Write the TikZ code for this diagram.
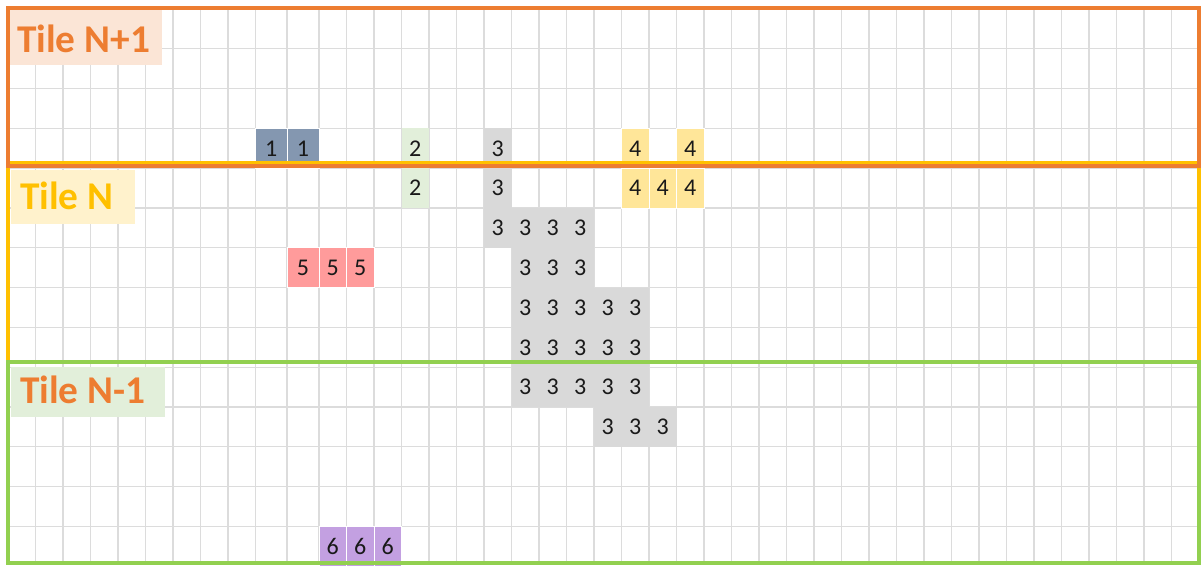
\documentclass[tikz,border=0pt]{standalone}
\usepackage{fontspec}
\setmainfont{Carlito}
\definecolor{tileorange}{HTML}{ED7D31}
\definecolor{tileyellow}{HTML}{FFC000}
\definecolor{tilegreen}{HTML}{92D050}
\definecolor{gridgray}{HTML}{DCDCDC}
\definecolor{bgorange}{HTML}{FBE5D6}
\definecolor{bgyellow}{HTML}{FFF2CC}
\definecolor{bggreen}{HTML}{E2EFDA}
\definecolor{cone}{HTML}{8497B0}
\definecolor{ctwo}{HTML}{E2EFDA}
\definecolor{cthree}{HTML}{D9D9D9}
\definecolor{cfour}{HTML}{FFE699}
\definecolor{cfive}{HTML}{FF9B9B}
\definecolor{csix}{HTML}{C3A0E1}
\tikzset{
  gridline/.style={draw=gridgray, line width=0.8pt},
  cellnode/.style={inner sep=0pt, outer sep=0pt, minimum height=29.85pt,
    font=\fontsize{18}{20}\selectfont, text=black!90},
  sepcell/.style={draw=white, line width=0.5pt},
  labelbg/.style={inner sep=0pt, outer sep=0pt, anchor=north west},
  tilelabel/.style={inner sep=0pt, outer sep=0pt, anchor=base west,
    font=\fontsize{29.5}{32}\bfseries\selectfont},
  tileborder/.style={line width=3pt},
}
\newcommand\gcell[6][]{%
  \pgfmathsetmacro\gx{#3<=9 ? 8+27.5*#3 : (#3==10 ? 287 : 319+27.5*(#3-11))}%
  \pgfmathsetmacro\gw{#3<=8 ? 27.5 : (#3==9 ? 31.5 : (#3==10 ? 32 : 27.5))}%
  \pgfmathsetmacro\gy{9+39.8*#4}%
  \node[cellnode, fill=#5, minimum width=\gw*0.75pt, anchor=north west, #1] (#2) at (\gx,\gy) {#6};%
}
\begin{document}
\begin{tikzpicture}[x=0.75pt, y=-0.75pt]
\useasboundingbox (0,0) rectangle (1201,565);
\fill[white] (0,0) rectangle (1201,565);
% grid
\foreach \i in {1,...,9} \draw[gridline] ({8+27.5*\i},8) -- ({8+27.5*\i},565);
\draw[gridline] (287,8) -- (287,565);
\foreach \k in {0,...,31} \draw[gridline] ({319+27.5*\k},8) -- ({319+27.5*\k},565);
\foreach \j in {1,...,13} \draw[gridline] (8,{9+39.8*\j}) -- (1199,{9+39.8*\j});
% cells: group 1
\gcell[sepcell]{oneA}{9}{3}{cone}{1}
\gcell[sepcell]{oneB}{10}{3}{cone}{1}
% group 2
\gcell{twoA}{14}{3}{ctwo}{2}
\gcell{twoB}{14}{4}{ctwo}{2}
% group 4
\gcell[sepcell]{fourA}{22}{3}{cfour}{4}
\gcell[sepcell]{fourB}{24}{3}{cfour}{4}
\gcell[sepcell]{fourC}{22}{4}{cfour}{4}
\gcell[sepcell]{fourD}{23}{4}{cfour}{4}
\gcell[sepcell]{fourE}{24}{4}{cfour}{4}
% group 5
\gcell[sepcell]{fiveA}{10}{6}{cfive}{5}
\gcell[sepcell]{fiveB}{11}{6}{cfive}{5}
\gcell[sepcell]{fiveC}{12}{6}{cfive}{5}
% group 6
\gcell[sepcell]{sixA}{11}{13}{csix}{6}
\gcell[sepcell]{sixB}{12}{13}{csix}{6}
\gcell[sepcell]{sixC}{13}{13}{csix}{6}
% group 3
\gcell{thrA}{17}{3}{cthree}{3}
\gcell{thrB}{17}{4}{cthree}{3}
\foreach \c in {17,18,19,20} {\gcell{thrR5c\c}{\c}{5}{cthree}{3}}
\foreach \c in {18,19,20} {\gcell{thrR6c\c}{\c}{6}{cthree}{3}}
\foreach \r in {7,8,9} {\foreach \c in {18,19,20,21,22} {\gcell{thrR\r c\c}{\c}{\r}{cthree}{3}}}
\foreach \c in {21,22,23} {\gcell{thrR10c\c}{\c}{10}{cthree}{3}}
% label backgrounds and labels
\node[labelbg, fill=bgorange, minimum width=114pt, minimum height=41.25pt] (bgUp) at (10,10) {};
\node[tilelabel, text=tileorange] (labUp) at (17,52) {Tile N+1};
\node[labelbg, fill=bgyellow, minimum width=93pt, minimum height=40.5pt] (bgMid) at (11,170) {};
\node[tilelabel, text=tileyellow] (labMid) at (20,209) {Tile N};
\node[labelbg, fill=bggreen, minimum width=115.5pt, minimum height=37.5pt] (bgLow) at (11,367) {};
\node[tilelabel, text=tileorange] (labLow) at (20,403) {Tile N-1};
% tile borders
\draw[tileborder, draw=tileyellow] (8,163) rectangle (1199,362);
\draw[tileborder, draw=tileorange] (8,7.5) rectangle (1199,166);
\draw[tileborder, draw=tilegreen] (8,362) rectangle (1199,563);
\end{tikzpicture}
\end{document}
